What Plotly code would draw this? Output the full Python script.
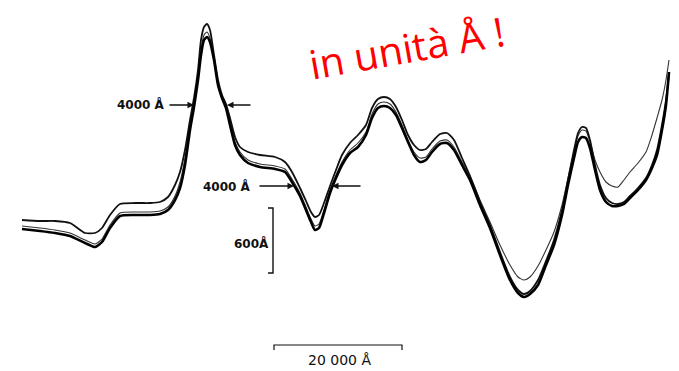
import plotly.graph_objects as go

# Profile position along the scan (drawing units) and the three traced profiles
# (values are vertical positions; axis is reversed)
pos = [22, 40, 55, 70, 85, 95, 102, 110, 120, 135, 150, 160, 168, 175, 180, 185, 190, 194, 198, 201,
       204, 207, 210, 214, 218, 222, 226, 230, 235, 240, 248, 260, 275, 285, 292, 300, 306, 311, 315, 319,
       324, 330, 336, 342, 350, 358, 366, 372, 378, 384, 390, 396, 402, 408, 414, 420, 426, 432, 440, 447,
       454, 462, 470, 480, 490, 500, 510, 518, 524, 530, 538, 546, 554, 562, 568, 574, 578, 582, 586, 590,
       595, 600, 606, 612, 618, 624, 630, 638, 646, 652, 657, 662, 666, 669]

profile_low = [229, 231, 233, 236, 243, 247, 242, 228, 216, 215, 215, 214, 210, 200, 188, 165, 130, 107, 80, 55,
               40, 37, 42, 60, 85, 98, 108, 125, 145, 155, 163, 167, 169, 172, 182, 196, 210, 222, 230, 228,
               213, 193, 178, 165, 153, 147, 135, 118, 108, 106, 108, 115, 128, 142, 155, 162, 160, 152, 144, 143,
               150, 165, 180, 205, 228, 255, 280, 293, 297, 294, 285, 265, 245, 215, 185, 158, 142, 137, 138, 148,
               170, 190, 202, 206, 206, 204, 198, 190, 180, 168, 155, 130, 105, 72]

profile_high = [220, 221, 221, 223, 233, 233, 228, 215, 204, 203, 203, 202, 197, 185, 172, 150, 120, 98, 70, 40,
                27, 24, 30, 55, 80, 95, 104, 118, 137, 147, 152, 155, 157, 162, 172, 188, 201, 212, 217, 215,
                203, 186, 170, 155, 143, 135, 125, 108, 99, 97, 99, 107, 120, 135, 145, 150, 149, 142, 134, 133,
                140, 158, 176, 202, 225, 252, 277, 290, 294, 291, 280, 261, 240, 210, 180, 150, 133, 127, 128, 140,
                165, 185, 198, 203, 204, 202, 196, 188, 178, 165, 150, 125, 100, 74]

profile_thin = [226, 228, 230, 233, 240, 244, 239, 225, 213, 212, 212, 211, 207, 196, 182, 158, 125, 103, 76, 50,
                35, 32, 38, 58, 83, 97, 106, 122, 142, 152, 160, 164, 166, 169, 179, 193, 207, 219, 226, 224,
                210, 190, 175, 162, 150, 143, 132, 114, 104, 102, 104, 112, 125, 140, 152, 158, 157, 149, 141, 140,
                147, 162, 176, 200, 222, 245, 265, 277, 280, 277, 266, 250, 232, 205, 178, 152, 136, 130, 131, 142,
                160, 172, 182, 186, 187, 180, 172, 163, 152, 135, 118, 100, 80, 60]

fig = go.Figure()
fig.add_trace(go.Scatter(x=pos, y=profile_thin, mode="lines",
                         line=dict(color="#333333", width=1.1, shape="spline", smoothing=0.6),
                         hoverinfo="skip"))
fig.add_trace(go.Scatter(x=pos, y=profile_high, mode="lines",
                         line=dict(color="#111111", width=1.8, shape="spline", smoothing=0.6),
                         hoverinfo="skip"))
fig.add_trace(go.Scatter(x=pos, y=profile_low, mode="lines",
                         line=dict(color="#000000", width=2.6, shape="spline", smoothing=0.6),
                         hoverinfo="skip"))

lab_font = dict(family="DejaVu Sans, sans-serif", size=12, color="#111111")

# 4000 Å width markers (upper)
fig.add_annotation(x=141, y=104, text="<b>4000 Å</b>", showarrow=False, font=lab_font)
fig.add_annotation(x=194, y=105, ax=168, ay=105, xref="x", yref="y", axref="x", ayref="y",
                   showarrow=True, arrowhead=2, arrowsize=1, arrowwidth=1.3, arrowcolor="#111111", text="")
fig.add_annotation(x=227, y=105, ax=252, ay=105, xref="x", yref="y", axref="x", ayref="y",
                   showarrow=True, arrowhead=2, arrowsize=1, arrowwidth=1.3, arrowcolor="#111111", text="")
# 4000 Å width markers (lower)
fig.add_annotation(x=227, y=186, text="<b>4000 Å</b>", showarrow=False, font=lab_font)
fig.add_annotation(x=294, y=186, ax=258, ay=186, xref="x", yref="y", axref="x", ayref="y",
                   showarrow=True, arrowhead=2, arrowsize=1, arrowwidth=1.3, arrowcolor="#111111", text="")
fig.add_annotation(x=332, y=186, ax=362, ay=186, xref="x", yref="y", axref="x", ayref="y",
                   showarrow=True, arrowhead=2, arrowsize=1, arrowwidth=1.3, arrowcolor="#111111", text="")

# 600 Å vertical scale bar
fig.add_shape(type="path", path="M 268 208 L 273 208 L 273 273 L 268 273",
              line=dict(color="#111111", width=1.4))
fig.add_annotation(x=251, y=243, text="<b>600Å</b>", showarrow=False, font=lab_font)

# 20 000 Å horizontal scale bar
fig.add_shape(type="path", path="M 274 350 L 274 345 L 402 345 L 402 350",
              line=dict(color="#111111", width=1.2))
fig.add_annotation(x=339, y=360, text="20 000 Å", showarrow=False,
                   font=dict(family="DejaVu Sans, sans-serif", size=14, color="#111111"))

# red note
fig.add_annotation(x=406, y=47, text="in unità Å !", showarrow=False, textangle=-10,
                   font=dict(family="Open Sans, Noto Sans, sans-serif", size=40, color="#ff0000"))

fig.update_xaxes(range=[0, 679], visible=False, fixedrange=True)
fig.update_yaxes(range=[371, 0], visible=False, fixedrange=True)
fig.update_layout(width=679, height=371, margin=dict(l=0, r=0, t=0, b=0),
                  paper_bgcolor="white", plot_bgcolor="white", showlegend=False)

fig.write_html("out.html", config={"displayModeBar": False},
               post_script="document.body.style.margin='0';document.body.style.overflow='hidden';")
